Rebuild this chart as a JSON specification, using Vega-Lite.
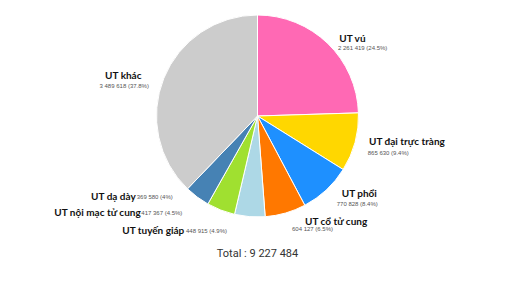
{
  "$schema": "https://vega.github.io/schema/vega-lite/v6.json",
  "width": 505,
  "height": 232,
  "autosize": "none",
  "padding": {"left": 5, "top": 0, "right": 0, "bottom": 54},
  "background": "white",
  "config": {"view": {"stroke": null}},
  "title": {"text": "Total : 9 227 484", "orient": "bottom", "offset": 12, "font": "Roboto", "fontSize": 11, "fontWeight": "normal", "color": "#333333", "anchor": "middle"},
  "data": {"values": [
    {"idx": 1, "name": "UT vú", "value": 2261419, "label": "2 261 419 (24.5%)"},
    {"idx": 2, "name": "UT đại trực tràng", "value": 865630, "label": "865 630 (9.4%)"},
    {"idx": 3, "name": "UT phổi", "value": 770828, "label": "770 828 (8.4%)"},
    {"idx": 4, "name": "UT cổ tử cung", "value": 604127, "label": "604 127 (6.5%)"},
    {"idx": 5, "name": "UT tuyến giáp", "value": 448915, "label": "448 915 (4.9%)"},
    {"idx": 6, "name": "UT nội mạc tử cung", "value": 417367, "label": "417 367 (4.5%)"},
    {"idx": 7, "name": "UT dạ dày", "value": 369580, "label": "369 580 (4%)"},
    {"idx": 8, "name": "UT khác", "value": 3489618, "label": "3 489 618 (37.8%)"}
  ]},
  "encoding": {
    "theta": {"field": "value", "type": "quantitative", "stack": true},
    "order": {"field": "idx", "type": "quantitative"}
  },
  "layer": [
    {
      "mark": {"type": "arc", "outerRadius": 101, "stroke": "white", "strokeWidth": 1},
      "encoding": {
        "color": {"field": "name", "type": "nominal", "legend": null,
          "scale": {"domain": ["UT vú", "UT đại trực tràng", "UT phổi", "UT cổ tử cung", "UT tuyến giáp", "UT nội mạc tử cung", "UT dạ dày", "UT khác"],
                    "range": ["#FF69B4", "#FFD700", "#1E90FF", "#FF7800", "#ADD8E6", "#A0E030", "#4682B4", "#CCCCCC"]}}
      }
    },
    {"mark": {"type": "text", "radius": 101, "align": "left", "dx": 11.5, "dy": -4.5, "font": "Lato", "fontWeight": "bold", "fontSize": 10, "color": "#111111"},
     "encoding": {"text": {"condition": {"test": "datum.name === 'UT vú'", "field": "name"}, "value": ""}}},
    {"mark": {"type": "text", "radius": 101, "align": "left", "dx": 10.2, "dy": 4.5, "font": "Liberation Sans", "fontSize": 6, "color": "#555555"},
     "encoding": {"text": {"condition": {"test": "datum.name === 'UT vú'", "field": "label"}, "value": ""}}},
    {"mark": {"type": "text", "radius": 101, "align": "left", "dx": 14, "dy": -0.4, "font": "Lato", "fontWeight": "bold", "fontSize": 10, "color": "#111111"},
     "encoding": {"text": {"condition": {"test": "datum.name === 'UT đại trực tràng'", "field": "name"}, "value": ""}}},
    {"mark": {"type": "text", "radius": 101, "align": "left", "dx": 12.7, "dy": 10.9, "font": "Liberation Sans", "fontSize": 6, "color": "#555555"},
     "encoding": {"text": {"condition": {"test": "datum.name === 'UT đại trực tràng'", "field": "label"}, "value": ""}}},
    {"mark": {"type": "text", "radius": 101, "align": "left", "dx": 15.4, "dy": 4.4, "font": "Lato", "fontWeight": "bold", "fontSize": 10, "color": "#111111"},
     "encoding": {"text": {"condition": {"test": "datum.name === 'UT phổi'", "field": "name"}, "value": ""}}},
    {"mark": {"type": "text", "radius": 101, "align": "left", "dx": 10.4, "dy": 14.4, "font": "Liberation Sans", "fontSize": 6, "color": "#555555"},
     "encoding": {"text": {"condition": {"test": "datum.name === 'UT phổi'", "field": "label"}, "value": ""}}},
    {"mark": {"type": "text", "radius": 101, "align": "left", "dx": 19.4, "dy": 9.3, "font": "Lato", "fontWeight": "bold", "fontSize": 10, "color": "#111111"},
     "encoding": {"text": {"condition": {"test": "datum.name === 'UT cổ tử cung'", "field": "name"}, "value": ""}}},
    {"mark": {"type": "text", "radius": 101, "align": "left", "dx": 6.4, "dy": 16, "font": "Liberation Sans", "fontSize": 6, "color": "#555555"},
     "encoding": {"text": {"condition": {"test": "datum.name === 'UT cổ tử cung'", "field": "label"}, "value": ""}}},
    {"mark": {"type": "text", "radius": 101, "align": "right", "dx": -65.5, "dy": 14, "font": "Lato", "fontWeight": "bold", "fontSize": 10, "color": "#111111"},
     "encoding": {"text": {"condition": {"test": "datum.name === 'UT tuyến giáp'", "field": "name"}, "value": ""}}},
    {"mark": {"type": "text", "radius": 101, "align": "left", "dx": -63.8, "dy": 14, "font": "Liberation Sans", "fontSize": 6, "color": "#555555"},
     "encoding": {"text": {"condition": {"test": "datum.name === 'UT tuyến giáp'", "field": "label"}, "value": ""}}},
    {"mark": {"type": "text", "radius": 101, "align": "right", "dx": -80.1, "dy": 3.2, "font": "Lato", "fontWeight": "bold", "fontSize": 10, "color": "#111111"},
     "encoding": {"text": {"condition": {"test": "datum.name === 'UT nội mạc tử cung'", "field": "name"}, "value": ""}}},
    {"mark": {"type": "text", "radius": 101, "align": "left", "dx": -79.5, "dy": 3.2, "font": "Liberation Sans", "fontSize": 6, "color": "#555555"},
     "encoding": {"text": {"condition": {"test": "datum.name === 'UT nội mạc tử cung'", "field": "label"}, "value": ""}}},
    {"mark": {"type": "text", "radius": 101, "align": "right", "dx": -61.5, "dy": -0.4, "font": "Lato", "fontWeight": "bold", "fontSize": 10, "color": "#111111"},
     "encoding": {"text": {"condition": {"test": "datum.name === 'UT dạ dày'", "field": "name"}, "value": ""}}},
    {"mark": {"type": "text", "radius": 101, "align": "left", "dx": -60.5, "dy": -0.4, "font": "Liberation Sans", "fontSize": 6, "color": "#555555"},
     "encoding": {"text": {"condition": {"test": "datum.name === 'UT dạ dày'", "field": "label"}, "value": ""}}},
    {"mark": {"type": "text", "radius": 101, "align": "center", "dx": -40.5, "dy": -2.3, "font": "Lato", "fontWeight": "bold", "fontSize": 10, "color": "#111111"},
     "encoding": {"text": {"condition": {"test": "datum.name === 'UT khác'", "field": "name"}, "value": ""}}},
    {"mark": {"type": "text", "radius": 101, "align": "center", "dx": -39.6, "dy": 7.4, "font": "Liberation Sans", "fontSize": 6, "color": "#555555"},
     "encoding": {"text": {"condition": {"test": "datum.name === 'UT khác'", "field": "label"}, "value": ""}}}
  ]
}
